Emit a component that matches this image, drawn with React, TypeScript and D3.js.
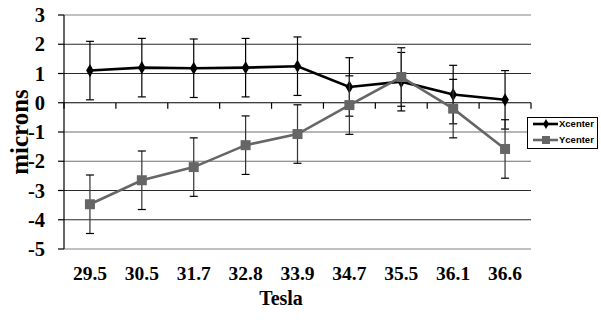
import React from 'react';
import * as d3 from 'd3';

const categories = ['29.5', '30.5', '31.7', '32.8', '33.9', '34.7', '35.5', '36.1', '36.6'];
const xCenter = [1.1, 1.2, 1.18, 1.2, 1.25, 0.54, 0.72, 0.28, 0.1];
const yCenter = [-3.47, -2.65, -2.2, -1.45, -1.07, -0.08, 0.88, -0.2, -1.58];
const xErr = [1, 1, 1, 1, 1, 1, 1, 1, 1];
const yErr = [1, 1, 1, 1, 1, 1, 1, 1, 1];
const yTicks = [3, 2, 1, 0, -1, -2, -3, -4, -5];

const width = 601;
const height = 323;
const margin = { top: 15, right: 70, bottom: 74, left: 64 };

const App = () => {
  const x = d3.scaleBand<string>()
    .domain(categories)
    .range([margin.left, width - margin.right]);

  const y = d3.scaleLinear()
    .domain([-5, 3])
    .range([height - margin.bottom, margin.top]);

  const cx = (c: string) => (x(c) ?? 0) + x.bandwidth() / 2;

  const line = d3.line<number>()
    .x((_, i) => cx(categories[i]))
    .y(d => y(d));

  const series = [
    { name: 'Xcenter', values: xCenter, err: xErr, color: '#000000', marker: 'diamond' },
    { name: 'Ycenter', values: yCenter, err: yErr, color: '#666666', marker: 'square' },
  ];

  const gridColor = (t: number) => {
    if (t === 3 || t === -5) return '#c0c0c0';
    if (t === -1 || t === -2) return '#707070';
    return '#2a2a2a';
  };

  const diamond = d3.symbol().type(d3.symbolDiamond).size(50)();

  const font = '"Liberation Serif", "Times New Roman", serif';

  return (
    <svg width={width} height={height} style={{ position: 'absolute', left: 0, top: 0, background: '#fff' }}>
      {/* gridlines */}
      {yTicks.filter(t => t !== 0).map(t => (
        <line key={t} x1={margin.left} x2={width - margin.right} y1={y(t)} y2={y(t)}
          stroke={gridColor(t)} strokeWidth={t === 3 || t === -5 ? 2 : 1.2} />
      ))}

      {/* y axis */}
      <line x1={margin.left} x2={margin.left} y1={y(3)} y2={y(-5)} stroke="#000" strokeWidth={1.2} />
      {yTicks.map(t => (
        <g key={t}>
          <line x1={margin.left - 6} x2={margin.left} y1={y(t)} y2={y(t)} stroke="#000" strokeWidth={1.2} />
          <text x={margin.left - 19} y={y(t)} dy="0.35em" textAnchor="end"
            fontFamily={font} fontWeight="bold" fontSize={20.5}>{t}</text>
        </g>
      ))}

      {/* x axis at zero */}
      <line x1={margin.left} x2={width - margin.right} y1={y(0)} y2={y(0)} stroke="#000" strokeWidth={1.2} />
      {categories.map(c => (
        <line key={c} x1={x(c) ?? 0} x2={x(c) ?? 0} y1={y(0)} y2={y(0) + 6}
          stroke="#000" strokeWidth={1.2} />
      ))}
      <line x1={width - margin.right} x2={width - margin.right} y1={y(0)} y2={y(0) + 6} stroke="#000" strokeWidth={1.2} />

      {/* category labels */}
      {categories.map(c => (
        <text key={c} x={cx(c)} y={280} textAnchor="middle"
          fontFamily={font} fontWeight="bold" fontSize={19.5}>{c}</text>
      ))}

      {/* axis titles */}
      <text x={281} y={305} textAnchor="middle" fontFamily={font} fontWeight="bold" fontSize={20}>Tesla</text>
      <text transform={`translate(28, ${y(-1)}) rotate(-90)`} textAnchor="middle"
        fontFamily={font} fontWeight="bold" fontSize={25}>microns</text>

      {/* series */}
      {series.map(s => (
        <g key={s.name}>
          <path d={line(s.values) ?? ''} fill="none" stroke={s.color} strokeWidth={2.6} />
          {s.values.map((v, i) => {
            const px = cx(categories[i]);
            const top = y(v + s.err[i]);
            const bot = y(v - s.err[i]);
            return (
              <g key={i}>
                <line x1={px} x2={px} y1={top} y2={bot} stroke={s.color === '#000000' ? '#000' : '#333'} strokeWidth={1.2} />
                <line x1={px - 4} x2={px + 4} y1={top} y2={top} stroke="#000" strokeWidth={1.2} />
                <line x1={px - 4} x2={px + 4} y1={bot} y2={bot} stroke="#000" strokeWidth={1.2} />
              </g>
            );
          })}
          {s.values.map((v, i) => {
            const px = cx(categories[i]);
            return s.marker === 'diamond'
              ? <path key={i} d={diamond ?? ''} transform={`translate(${px},${y(v)})`} fill={s.color} />
              : <rect key={i} x={px - 5} y={y(v) - 5} width={10} height={10} fill={s.color} />;
          })}
        </g>
      ))}

      {/* legend */}
      <g>
        <rect x={527.5} y={117.5} width={70} height={31} fill="#fff" stroke="#000" strokeWidth={1} />
        {series.map((s, i) => {
          const ly = 124 + i * 16;
          return (
            <g key={s.name}>
              <line x1={533} x2={558} y1={ly} y2={ly} stroke={s.color} strokeWidth={2.6} />
              {s.marker === 'diamond'
                ? <path d={d3.symbol().type(d3.symbolDiamond).size(30)() ?? ''} transform={`translate(546,${ly})`} fill={s.color} />
                : <rect x={542} y={ly - 4} width={8} height={8} fill={s.color} />}
              <text x={559} y={ly} dy="0.35em" fontFamily="Arial, 'Liberation Sans', sans-serif"
                fontWeight="bold" fontSize={9.5}>{s.name}</text>
            </g>
          );
        })}
      </g>
    </svg>
  );
};

export default App;
